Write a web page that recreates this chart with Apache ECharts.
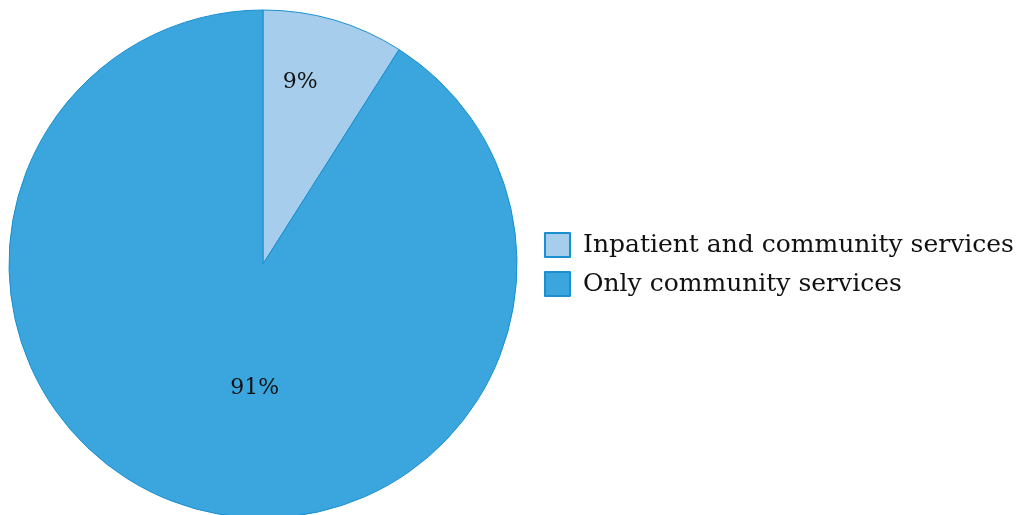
<!DOCTYPE html>
<html>
<head>
<meta charset="utf-8">
<script src="https://cdn.jsdelivr.net/npm/echarts@6/dist/echarts.min.js"></script>
<style>
  html, body { margin: 0; padding: 0; background: #ffffff; }
  #chart { width: 1024px; height: 515px; }
</style>
</head>
<body>
<div id="chart"></div>
<script>
// Share of services used
const categories = ['Inpatient and community services', 'Only community services'];
const shares = [9, 91];
const sliceColors = ['#a6cdec', '#3ba5de'];
// nudges for the in-slice percentage labels
const labelOffsets = [[1, -57], [28, -1]];

const chart = echarts.init(document.getElementById('chart'));
const font = 'DejaVu Serif';

chart.setOption({
  animation: false,
  legend: {
    orient: 'vertical',
    left: 544,
    top: 232,
    padding: 0,
    itemWidth: 25,
    itemHeight: 24,
    itemGap: 13,
    icon: 'rect',
    data: categories,
    textStyle: { fontFamily: font, fontSize: 25, color: '#111111', padding: [6, 0, 0, 8] }
  },
  series: [{
    type: 'pie',
    center: [263, 264],
    radius: 254,
    startAngle: 90,
    clockwise: true,
    silent: true,
    itemStyle: { borderColor: '#1a90d0', borderWidth: 1 },
    labelLine: { show: false },
    data: categories.map((name, i) => ({
      name: name,
      value: shares[i],
      itemStyle: { color: sliceColors[i] },
      label: {
        show: true,
        position: 'inside',
        formatter: '{d}%',
        offset: labelOffsets[i],
        fontFamily: font,
        fontSize: 22,
        color: '#111111'
      }
    }))
  }]
});
</script>
</body>
</html>
